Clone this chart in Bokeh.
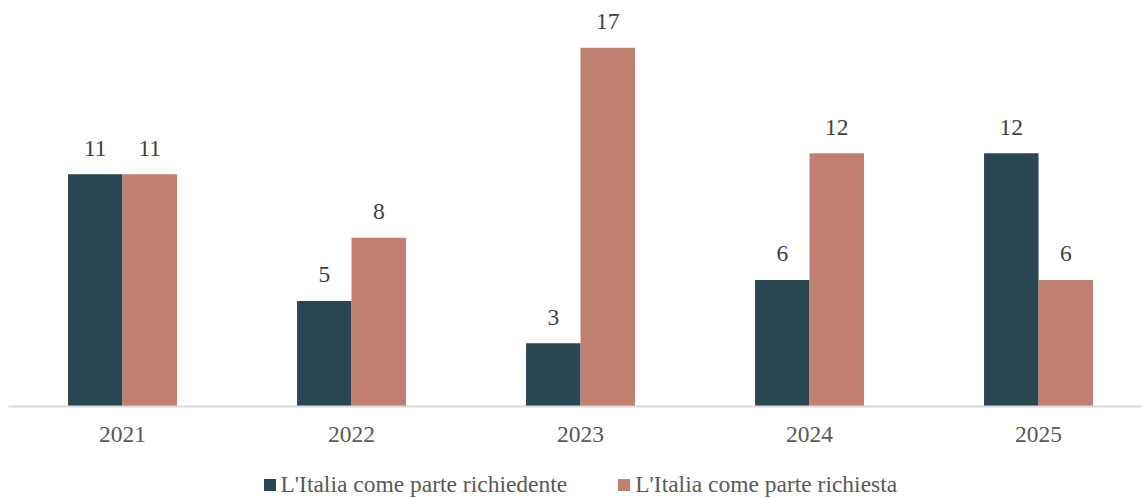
from bokeh.plotting import figure
from bokeh.layouts import column
from bokeh.models import ColumnDataSource, Range1d, Legend, LegendItem, FixedTicker
from bokeh.core.properties import value
from bokeh.embed import file_html
from bokeh.resources import INLINE

years = ["2021", "2022", "2023", "2024", "2025"]
richiedente = [11, 5, 3, 6, 12]
richiesta = [11, 8, 17, 12, 6]
series_names = ["L'Italia come parte richiedente", "L'Italia come parte richiesta"]
colors = ["#2B4653", "#C08070"]

FONT = "Liberation Serif"
FS = "23.5px"
idx = list(range(len(years)))
off = 0.119
bw = 0.238

p = figure(width=1142, height=450, output_backend="svg", toolbar_location=None,
           x_range=Range1d(-0.498, 4.454), y_range=Range1d(0, 18.86),
           min_border_left=8, min_border_right=0, min_border_top=8, min_border_bottom=44)

src1 = ColumnDataSource(dict(x=[i - off for i in idx], top=richiedente, lab=[str(v) for v in richiedente]))
src2 = ColumnDataSource(dict(x=[i + off for i in idx], top=richiesta, lab=[str(v) for v in richiesta]))

r1 = p.vbar(x="x", top="top", width=bw, source=src1, fill_color=colors[0], line_color=None)
r2 = p.vbar(x="x", top="top", width=bw, source=src2, fill_color=colors[1], line_color=None)

for s in (src1, src2):
    p.text(x="x", y="top", text="lab", source=s, text_align="center", text_baseline="alphabetic",
           y_offset=-26, text_font=value(FONT), text_font_size=FS, text_color="#404040")

p.outline_line_color = None
p.grid.grid_line_color = None
p.yaxis.visible = False
p.xaxis.ticker = FixedTicker(ticks=idx)
p.xaxis.major_label_overrides = {i: y for i, y in zip(idx, years)}
p.xaxis.major_tick_line_color = None
p.xaxis.minor_tick_line_color = None
p.xaxis.axis_line_color = "#D9D9D9"
p.xaxis.axis_line_width = 2
p.xaxis.major_label_text_font = FONT
p.xaxis.major_label_text_font_size = FS
p.xaxis.major_label_text_color = "#595959"
p.xaxis.major_label_standoff = 14

# legend strip below the chart (legend swatches use off-screen proxy bars)
lg = figure(width=1142, height=48, output_backend="svg", toolbar_location=None,
            x_range=Range1d(0, 1), y_range=Range1d(0, 1),
            min_border_left=0, min_border_right=0, min_border_top=0, min_border_bottom=0)
lg.outline_line_color = None
lg.grid.grid_line_color = None
lg.axis.visible = False
e = ColumnDataSource(dict(x=[-10], top=[0]))
d1 = lg.vbar(x="x", top="top", width=0.1, source=e, fill_color=colors[0], line_color=None)
d2 = lg.vbar(x="x", top="top", width=0.1, source=e, fill_color=colors[1], line_color=None)

legend = Legend(items=[LegendItem(label=series_names[0], renderers=[d1]),
                       LegendItem(label=series_names[1], renderers=[d2])],
                orientation="horizontal", location=(253.5, 0),
                label_text_font=FONT, label_text_font_size=FS, label_text_color="#595959",
                glyph_width=15, glyph_height=15, spacing=49, label_standoff=4,
                border_line_color=None, background_fill_alpha=0, margin=0, padding=0)
lg.add_layout(legend, "center")

layout = column(p, lg, spacing=0)
open("out.html", "w").write(file_html(layout, INLINE))
